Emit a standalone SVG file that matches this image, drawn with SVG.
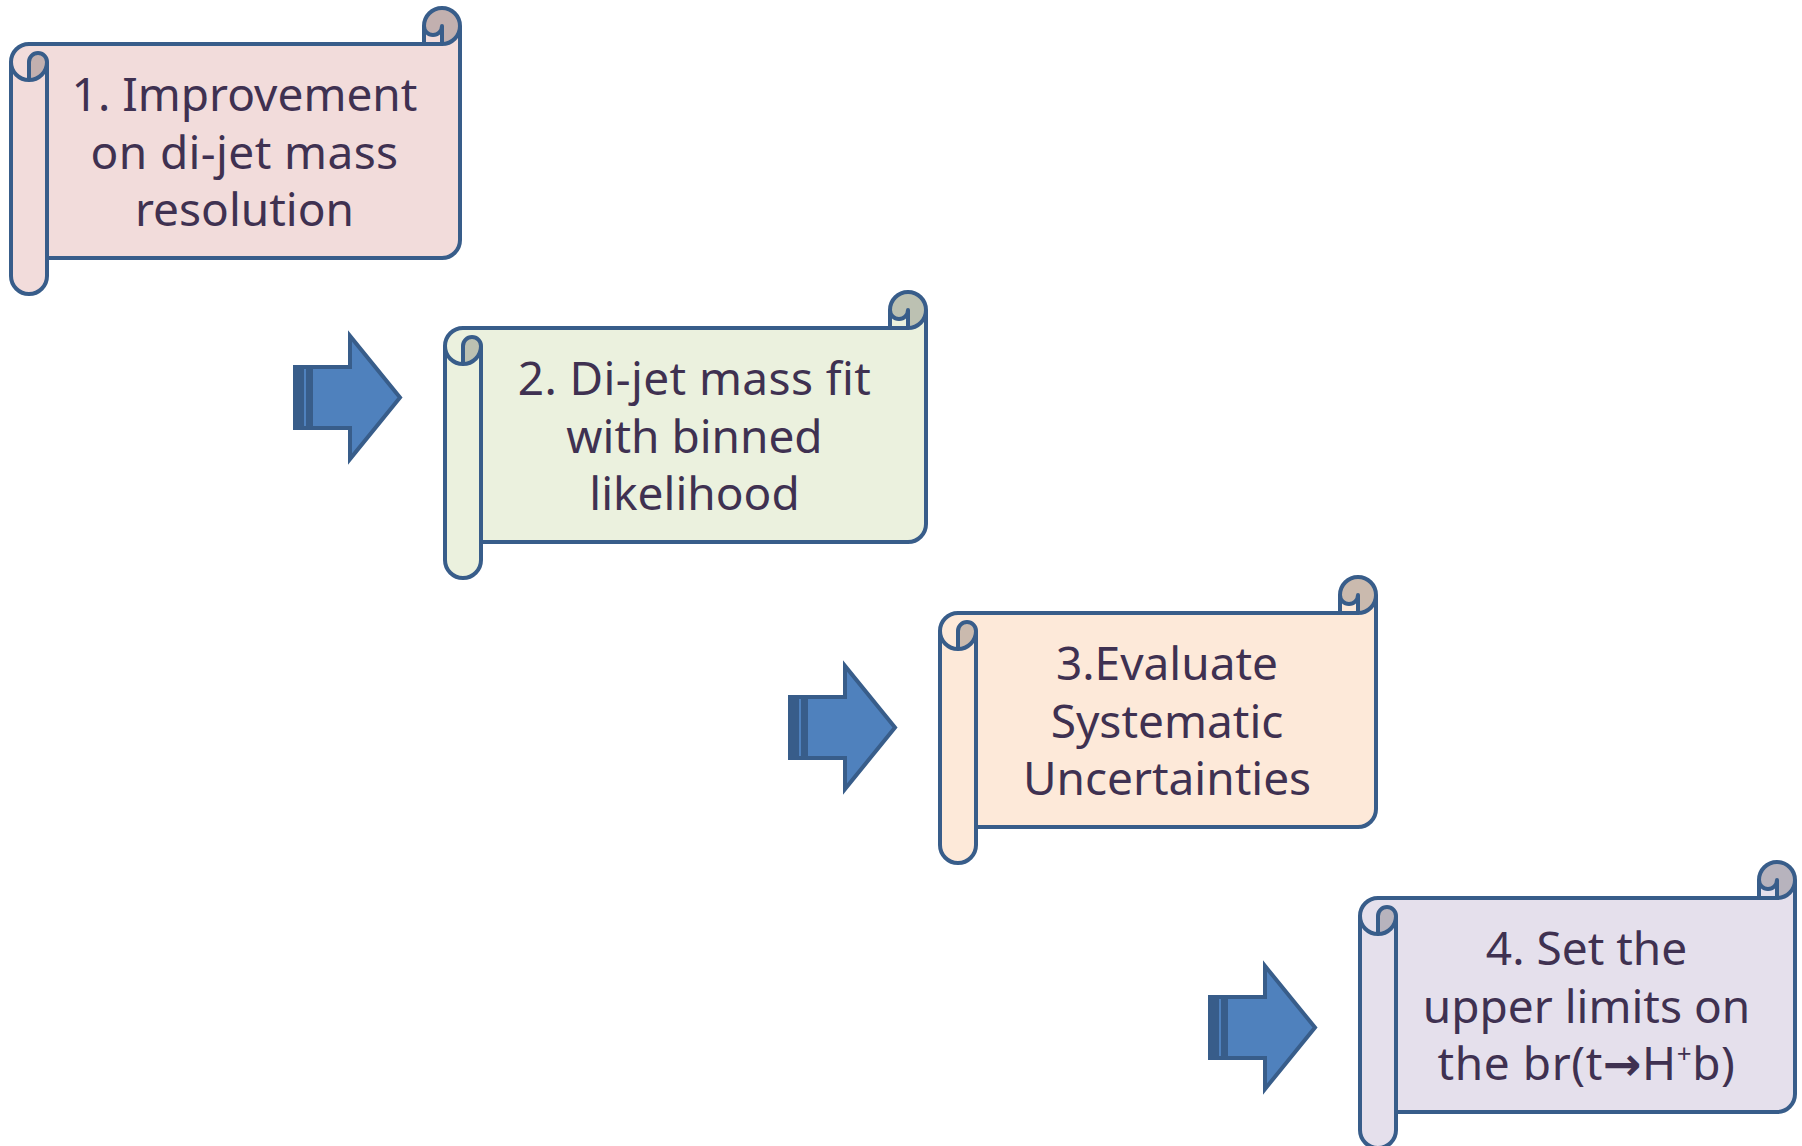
<svg xmlns="http://www.w3.org/2000/svg" width="1802" height="1146" viewBox="0 0 1802 1146">
<style>
.fill{stroke:none}
.ol{fill:none;stroke:#385D8A;stroke-width:4;stroke-linejoin:round}
.t{font-family:"Noto Sans","Open Sans","DejaVu Sans",sans-serif;font-size:46px;fill:#3F3151;text-anchor:middle}
.arr{fill:#4F81BD;stroke:#385D8A;stroke-width:4;stroke-linejoin:miter}
</style>
<rect width="1802" height="1146" fill="#FFFFFF"/>

<g id="connectors">
  <g id="arrow1" transform="translate(0,0)">
    <rect class="arr" x="295" y="367" width="3.5" height="61"/>
    <rect class="arr" x="302" y="367" width="6" height="61"/>
    <path class="arr" d="M311,367 L350,367 L350,336 L400,397.5 L350,459 L350,428 L311,428 Z"/>
  </g>
  <g id="arrow2" transform="translate(495,330)">
    <rect class="arr" x="295" y="367" width="3.5" height="61"/>
    <rect class="arr" x="302" y="367" width="6" height="61"/>
    <path class="arr" d="M311,367 L350,367 L350,336 L400,397.5 L350,459 L350,428 L311,428 Z"/>
  </g>
  <g id="arrow3" transform="translate(915,630)">
    <rect class="arr" x="295" y="367" width="3.5" height="61"/>
    <rect class="arr" x="302" y="367" width="6" height="61"/>
    <path class="arr" d="M311,367 L350,367 L350,336 L400,397.5 L350,459 L350,428 L311,428 Z"/>
  </g>
</g>

<g id="node1" transform="translate(11,8)">
  <path class="fill" fill="#F2DCDB" d="M449,18 A18,18 0 0 1 431,36 L431,18 A9,9 0 0 1 413,18 L413,36 L18,36 A18,18 0 0 0 0,54 L0,268 A18,18 0 0 0 36,268 L36,250 L431,250 A18,18 0 0 0 449,232 Z"/>
  <path class="fill" fill="#C2B0AF" d="M18,72 A18,18 0 0 0 36,54 A9,9 0 0 0 18,54 Z M431,36 A18,18 0 1 0 413,18 A9,9 0 0 0 431,18 Z"/>
  <path class="ol" d="M0,54 A18,18 0 0 1 18,36 L413,36 L413,18 A18,18 0 0 1 449,18 L449,232 A18,18 0 0 1 431,250 L36,250 L36,268 A18,18 0 0 1 0,268 Z M413,36 L431,36 A18,18 0 0 0 449,18 M431,36 L431,18 A9,9 0 0 1 413,18 M18,72 L18,54 A9,9 0 0 1 36,54 A18,18 0 0 1 0,54 M36,54 L36,250"/>
  <text class="t" x="233.5" y="103">1. Improvement</text>
  <text class="t" x="233.5" y="160.5" letter-spacing="0.4">on di-jet mass</text>
  <text class="t" x="233.5" y="218">resolution</text>
</g>

<g id="node2" transform="translate(445,292)">
  <path class="fill" fill="#EBF1DE" d="M481,18 A18,18 0 0 1 463,36 L463,18 A9,9 0 0 1 445,18 L445,36 L18,36 A18,18 0 0 0 0,54 L0,268 A18,18 0 0 0 36,268 L36,250 L463,250 A18,18 0 0 0 481,232 Z"/>
  <path class="fill" fill="#BCC1B2" d="M18,72 A18,18 0 0 0 36,54 A9,9 0 0 0 18,54 Z M463,36 A18,18 0 1 0 445,18 A9,9 0 0 0 463,18 Z"/>
  <path class="ol" d="M0,54 A18,18 0 0 1 18,36 L445,36 L445,18 A18,18 0 0 1 481,18 L481,232 A18,18 0 0 1 463,250 L36,250 L36,268 A18,18 0 0 1 0,268 Z M445,36 L463,36 A18,18 0 0 0 481,18 M463,36 L463,18 A9,9 0 0 1 445,18 M18,72 L18,54 A9,9 0 0 1 36,54 A18,18 0 0 1 0,54 M36,54 L36,250"/>
  <text class="t" x="249.5" y="103" letter-spacing="0.4">2. Di-jet mass fit</text>
  <text class="t" x="249.5" y="160.5">with binned</text>
  <text class="t" x="249.5" y="218">likelihood</text>
</g>

<g id="node3" transform="translate(940,577)">
  <path class="fill" fill="#FDE9D9" d="M436,18 A18,18 0 0 1 418,36 L418,18 A9,9 0 0 1 400,18 L400,36 L18,36 A18,18 0 0 0 0,54 L0,268 A18,18 0 0 0 36,268 L36,250 L418,250 A18,18 0 0 0 436,232 Z"/>
  <path class="fill" fill="#CABAAE" d="M18,72 A18,18 0 0 0 36,54 A9,9 0 0 0 18,54 Z M418,36 A18,18 0 1 0 400,18 A9,9 0 0 0 418,18 Z"/>
  <path class="ol" d="M0,54 A18,18 0 0 1 18,36 L400,36 L400,18 A18,18 0 0 1 436,18 L436,232 A18,18 0 0 1 418,250 L36,250 L36,268 A18,18 0 0 1 0,268 Z M400,36 L418,36 A18,18 0 0 0 436,18 M418,36 L418,18 A9,9 0 0 1 400,18 M18,72 L18,54 A9,9 0 0 1 36,54 A18,18 0 0 1 0,54 M36,54 L36,250"/>
  <text class="t" x="227" y="103">3.Evaluate</text>
  <text class="t" x="227" y="160.5">Systematic</text>
  <text class="t" x="227" y="218">Uncertainties</text>
</g>

<g id="node4" transform="translate(1360,862)">
  <path class="fill" fill="#E5E0EC" d="M435,18 A18,18 0 0 1 417,36 L417,18 A9,9 0 0 1 399,18 L399,36 L18,36 A18,18 0 0 0 0,54 L0,268 A18,18 0 0 0 36,268 L36,250 L417,250 A18,18 0 0 0 435,232 Z"/>
  <path class="fill" fill="#B7B3BD" d="M18,72 A18,18 0 0 0 36,54 A9,9 0 0 0 18,54 Z M417,36 A18,18 0 1 0 399,18 A9,9 0 0 0 417,18 Z"/>
  <path class="ol" d="M0,54 A18,18 0 0 1 18,36 L399,36 L399,18 A18,18 0 0 1 435,18 L435,232 A18,18 0 0 1 417,250 L36,250 L36,268 A18,18 0 0 1 0,268 Z M399,36 L417,36 A18,18 0 0 0 435,18 M417,36 L417,18 A9,9 0 0 1 399,18 M18,72 L18,54 A9,9 0 0 1 36,54 A18,18 0 0 1 0,54 M36,54 L36,250"/>
  <text class="t" x="226.5" y="103">4. Set the</text>
  <text class="t" x="226.5" y="160.5">upper limits on</text>
  <text class="t" x="226.5" y="218" letter-spacing="0.6">the br(t<tspan font-weight="bold">→</tspan>H<tspan font-size="26" baseline-shift="17">+</tspan>b)</text>
</g>
</svg>
